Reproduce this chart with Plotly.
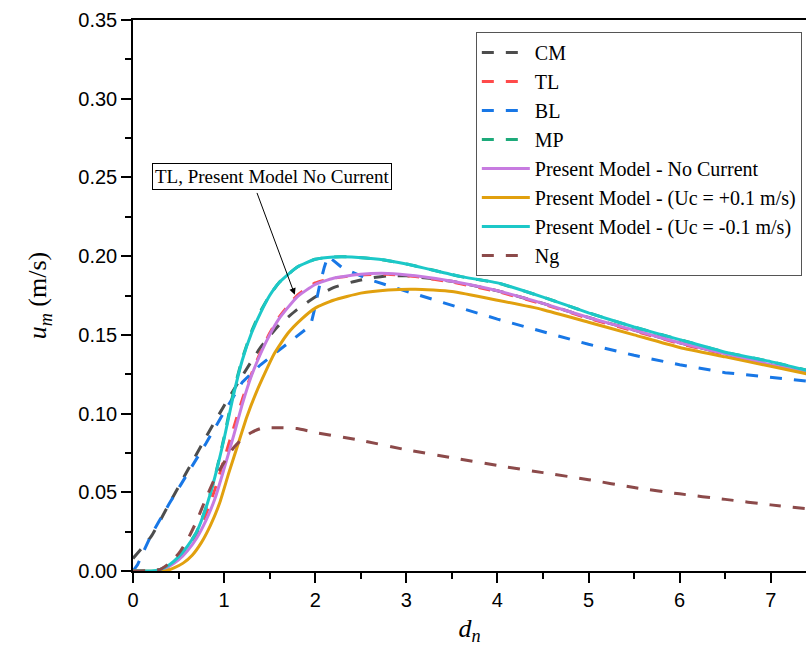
import plotly.graph_objects as go

# ---------------- data ----------------
cm_x = [0, 0.2, 0.4, 0.6, 0.8, 1.0, 1.2, 1.4, 1.6, 1.8, 2.0, 2.2, 2.4, 2.6, 2.8, 3.0,
        3.5, 4.0, 4.5, 5.0, 5.5, 6.0, 6.5, 7.0, 7.5]
cm_y = [0.008, 0.022, 0.043, 0.064, 0.085, 0.105, 0.124, 0.142, 0.156, 0.166, 0.174,
        0.180, 0.1835, 0.186, 0.1875, 0.1875, 0.184, 0.178, 0.170, 0.161, 0.153,
        0.145, 0.138, 0.131, 0.125]

tl_x = [0, 0.3, 0.4, 0.5, 0.6, 0.7, 0.8, 0.9, 1.0, 1.1, 1.2, 1.3, 1.4, 1.5, 1.6, 1.8,
        2.0, 2.2, 2.5, 2.8, 3.1, 3.5, 4.0, 4.5, 5.0, 5.5, 6.0, 6.5, 7.0, 7.5]
tl_y = [0, 0, 0.003, 0.008, 0.015, 0.024, 0.036, 0.052, 0.071, 0.090, 0.109, 0.125,
        0.139, 0.151, 0.161, 0.175, 0.183, 0.186, 0.188, 0.1885, 0.187, 0.1835,
        0.1775, 0.1695, 0.1605, 0.1525, 0.1445, 0.1375, 0.1305, 0.1245]

bl_x = [0, 0.05, 0.2, 0.4, 0.6, 0.8, 1.0, 1.2, 1.4, 1.6, 1.8, 1.95, 2.0, 2.05, 2.1,
        2.14, 2.3, 2.6, 2.9, 3.2, 3.6, 4.0, 4.5, 5.0, 5.5, 6.0, 6.5, 7.0, 7.5]
bl_y = [0, 0.004, 0.023, 0.043, 0.062, 0.081, 0.101, 0.120, 0.131, 0.140, 0.149,
        0.156, 0.168, 0.182, 0.193, 0.200, 0.1925, 0.185, 0.1795, 0.174, 0.167,
        0.160, 0.152, 0.144, 0.137, 0.131, 0.126, 0.123, 0.120]

mp_x = [0, 0.2, 0.3, 0.4, 0.5, 0.6, 0.7, 0.8, 0.9, 1.0, 1.1, 1.2, 1.3, 1.4, 1.5, 1.6,
        1.8, 2.0, 2.2, 2.4, 2.7, 3.0, 3.3, 3.6, 4.0, 4.5, 5.0, 5.5, 6.0, 6.5, 7.0, 7.5]
mp_y = [0, 0, 0.001, 0.004, 0.009, 0.016, 0.025, 0.040, 0.060, 0.085, 0.113, 0.135,
        0.152, 0.165, 0.175, 0.183, 0.193, 0.198, 0.1995, 0.1995, 0.198, 0.195,
        0.191, 0.187, 0.183, 0.174, 0.164, 0.155, 0.147, 0.139, 0.133, 0.126]

pm0_x = [0, 0.3, 0.4, 0.5, 0.6, 0.7, 0.8, 0.9, 1.0, 1.1, 1.2, 1.3, 1.4, 1.5, 1.6, 1.8,
         2.0, 2.2, 2.5, 2.8, 3.1, 3.5, 4.0, 4.5, 5.0, 5.5, 6.0, 6.5, 7.0, 7.5]
pm0_y = [0, 0, 0.003, 0.007, 0.013, 0.021, 0.032, 0.046, 0.065, 0.085, 0.106, 0.124,
         0.138, 0.150, 0.160, 0.174, 0.182, 0.186, 0.1885, 0.189, 0.1875, 0.184,
         0.178, 0.170, 0.161, 0.153, 0.145, 0.138, 0.131, 0.125]

pmp_x = [0, 0.35, 0.45, 0.55, 0.65, 0.75, 0.85, 0.95, 1.05, 1.15, 1.25, 1.35, 1.45,
         1.55, 1.7, 1.85, 2.0, 2.2, 2.5, 2.8, 3.1, 3.5, 4.0, 4.5, 5.0, 5.5, 6.0, 6.5,
         7.0, 7.5]
pmp_y = [0, 0, 0.002, 0.005, 0.010, 0.018, 0.029, 0.043, 0.062, 0.080, 0.098, 0.113,
         0.126, 0.138, 0.151, 0.160, 0.167, 0.172, 0.1765, 0.1785, 0.179, 0.1775,
         0.172, 0.166, 0.158, 0.150, 0.142, 0.136, 0.130, 0.124]

pmn_x = [0, 0.2, 0.3, 0.4, 0.5, 0.6, 0.7, 0.8, 0.9, 1.0, 1.1, 1.2, 1.3, 1.4, 1.5, 1.6,
         1.8, 2.0, 2.2, 2.4, 2.7, 3.0, 3.3, 3.6, 4.0, 4.5, 5.0, 5.5, 6.0, 6.5, 7.0, 7.5]
pmn_y = [0, 0, 0.001, 0.004, 0.009, 0.016, 0.025, 0.040, 0.060, 0.084, 0.111, 0.134,
         0.151, 0.164, 0.175, 0.183, 0.193, 0.198, 0.1995, 0.1995, 0.198, 0.195,
         0.191, 0.187, 0.183, 0.174, 0.164, 0.155, 0.147, 0.139, 0.133, 0.126]

ng_x = [0, 0.3, 0.4, 0.5, 0.6, 0.7, 0.8, 0.9, 1.0, 1.1, 1.2, 1.3, 1.4, 1.5, 1.6, 1.8,
        2.0, 2.5, 3.0, 3.5, 4.0, 4.5, 5.0, 5.5, 6.0, 6.5, 7.0, 7.5]
ng_y = [0, 0.001, 0.005, 0.011, 0.020, 0.032, 0.046, 0.059, 0.069, 0.078, 0.084,
        0.088, 0.0905, 0.091, 0.091, 0.0905, 0.088, 0.083, 0.077, 0.072, 0.067,
        0.0625, 0.058, 0.053, 0.049, 0.0455, 0.042, 0.039]

y_ticks = [0.00, 0.05, 0.10, 0.15, 0.20, 0.25, 0.30, 0.35]
x_ticks = [0, 1, 2, 3, 4, 5, 6, 7]

series = [
    ("CM", cm_x, cm_y, "#4D4D4D", "dash", "spline"),
    ("TL", tl_x, tl_y, "#FF4A4A", "dash", "spline"),
    ("BL", bl_x, bl_y, "#1877E6", "dash", "linear"),
    ("MP", mp_x, mp_y, "#1DAA7A", "dash", "spline"),
    ("Present Model - No Current", pm0_x, pm0_y, "#C77BE0", "solid", "spline"),
    ("Present Model - (Uc = +0.1 m/s)", pmp_x, pmp_y, "#E1A00E", "solid", "spline"),
    ("Present Model - (Uc = -0.1 m/s)", pmn_x, pmn_y, "#1CC8C8", "solid", "spline"),
    ("Ng", ng_x, ng_y, "#8C4A4A", "dash", "spline"),
]

fig = go.Figure()
for name, xs, ys, col, style, shp in series:
    line = dict(color=col, width=3,
                dash="12px,12px" if style == "dash" else "solid", shape=shp)
    if shp == "spline":
        line["smoothing"] = 0.5
    fig.add_trace(go.Scatter(x=xs, y=ys, mode="lines", name=name, line=line))

serif = "Liberation Serif, Times New Roman, serif"
sans = "Liberation Sans, Arial, sans-serif"

fig.update_layout(
    width=806, height=660,
    margin=dict(l=133, r=0, t=20, b=89),
    paper_bgcolor="white", plot_bgcolor="white",
    showlegend=True,
    legend=dict(
        x=0.5094, y=0.978, xanchor="left", yanchor="top",
        bgcolor="white", bordercolor="#555555", borderwidth=1,
        font=dict(family=serif, size=20, color="black"),
        itemwidth=48, tracegroupgap=0,
    ),
    xaxis=dict(
        range=[0, 7.387], tickvals=x_ticks, ticktext=[str(v) for v in x_ticks],
        showgrid=False, zeroline=False, showline=True, linecolor="black",
        linewidth=1.5, mirror=True, ticks="outside", ticklen=10, tickwidth=1.5,
        tickcolor="black",
        minor=dict(dtick=0.5, tick0=0, ticks="outside", ticklen=6, tickwidth=1.5,
                   tickcolor="black", showgrid=False),
        tickfont=dict(family=sans, size=20, color="black"),
        title=dict(text="<i>d<sub>n</sub></i>", font=dict(family=serif, size=26,
                   color="black"), standoff=9),
    ),
    yaxis=dict(
        range=[0, 0.35], tickvals=y_ticks, ticktext=[f"{v:.2f}" for v in y_ticks],
        showgrid=False, zeroline=False, showline=True, linecolor="black",
        linewidth=1.5, ticks="outside", ticklen=10, tickwidth=1.5, tickcolor="black",
        minor=dict(dtick=0.025, tick0=0, ticks="outside", ticklen=6, tickwidth=1.5,
                   tickcolor="black", showgrid=False),
        tickfont=dict(family=sans, size=20, color="black"),
        title=dict(text="<i>u<sub>m</sub></i> (m/s)", font=dict(family=serif, size=26,
                   color="black"), standoff=24),
    ),
)

# annotation box
fig.add_annotation(
    x=1.53, y=0.2505, xref="x", yref="y",
    text="TL, Present Model No Current", showarrow=False,
    font=dict(family=serif, size=19, color="black"),
    bgcolor="white", bordercolor="black", borderwidth=1, borderpad=2,
)
# arrow
fig.add_annotation(
    x=1.776, y=0.1755, xref="x", yref="y",
    ax=1.355, ay=0.2411, axref="x", ayref="y",
    text="", showarrow=True, arrowhead=2, arrowsize=1.3, arrowwidth=1,
    arrowcolor="black",
)

fig.write_html("out.html")
